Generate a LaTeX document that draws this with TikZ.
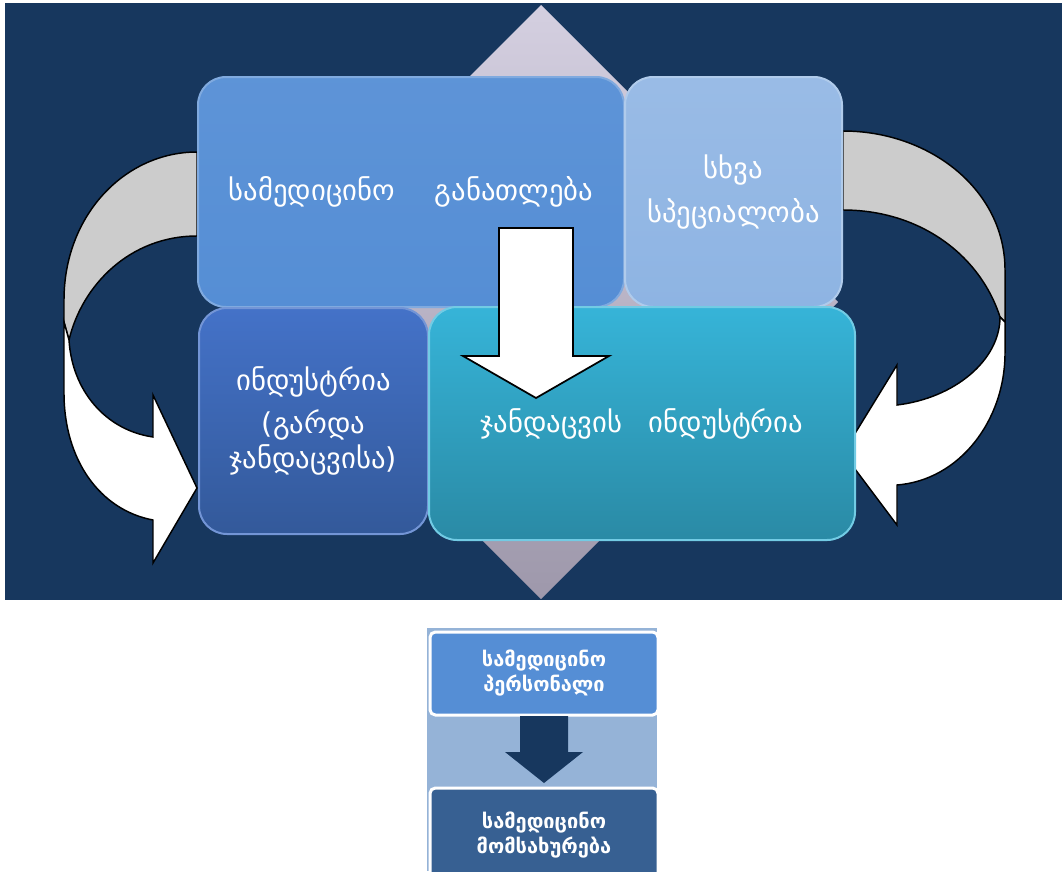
\documentclass[tikz,border=0pt]{standalone}
\usepackage{fontspec}
\setmainfont{DejaVu Sans}
\usetikzlibrary{positioning}
\definecolor{NavyBg}{HTML}{17375E}
\definecolor{DiamondTop}{HTML}{D4CFE0}
\definecolor{DiamondBottom}{HTML}{9E98AB}
\definecolor{PanelBlue}{HTML}{558ED5}
\definecolor{PanelPale}{HTML}{8EB4E3}
\definecolor{PanelRoyalTop}{HTML}{4472C8}
\definecolor{PanelRoyalBottom}{HTML}{33599A}
\definecolor{PanelTealTop}{HTML}{36B4D8}
\definecolor{PanelTealBottom}{HTML}{2A8AA5}
\definecolor{BackGray}{HTML}{CCCCCC}
\definecolor{StripBlue}{HTML}{95B3D7}
\definecolor{DeepBlue}{HTML}{376092}
\tikzset{
    % Big glossy panels
    panel/.style={
        rectangle,
        rounded corners=21pt,
        inner sep=0pt,
        align=center,
        text=white,
        line width=1.5pt,
        font=\fontsize{21.5}{26}\selectfont
    },
    panel blue/.style={
        panel,
        top color=PanelBlue!95!white,
        bottom color=PanelBlue,
        draw=PanelBlue!75!white
    },
    panel pale/.style={
        panel,
        top color=PanelPale!90!white,
        bottom color=PanelPale,
        draw=PanelPale!70!white
    },
    panel royal/.style={
        panel,
        top color=PanelRoyalTop,
        bottom color=PanelRoyalBottom,
        draw=PanelRoyalTop!75!white
    },
    panel teal/.style={
        panel,
        top color=PanelTealTop,
        bottom color=PanelTealBottom,
        draw=PanelTealTop!70!white
    },
    % Small boxes of the lower chain
    chain box/.style={
        rectangle,
        rounded corners=4pt,
        draw=white,
        line width=2.25pt,
        inner sep=0pt,
        minimum width=171pt,
        align=center,
        text=white,
        font=\fontsize{15}{18.75}\selectfont\bfseries
    },
    bend arrow/.style={
        draw=black,
        line width=1.1pt,
        line join=miter
    },
    block arrow/.style={
        draw=black,
        fill=white,
        line width=1.3pt,
        line join=miter
    }
}
\begin{document}
\begin{tikzpicture}[x=0.75pt, y=-0.75pt]
        \useasboundingbox (0,0) rectangle (1062,871);
        \clip (0,0) rectangle (1062,871);
        \fill[white] (0,0) rectangle (1062,871);

        % Dark backdrop and diamond
        \fill[NavyBg] (5,3) rectangle (1062,600);
        \shade[top color=DiamondTop, bottom color=DiamondBottom]
            (541,5) -- (838,302) -- (541,599) -- (244,302) -- cycle;

        % Curved arrow on the left
        \fill[BackGray, bend arrow] (197,152) .. controls (125,152) and (64,215) .. (64,300)
            -- (64,322) -- (69,340) .. controls (82,285) and (130,236) .. (197,236) -- cycle;
        \fill[white, bend arrow] (69,340) -- (64,322) -- (64,393)
            .. controls (64,460) and (100,510) .. (153,520)
            -- (153,563) -- (197,488) -- (153,395) -- (153,437)
            .. controls (105,430) and (72,390) .. (69,340) -- cycle;

        % Curved arrow on the right
        \fill[BackGray, bend arrow] (843,131) .. controls (930,131) and (1005,190) .. (1005,270)
            -- (1005,322) -- (1000,317) .. controls (980,255) and (920,210) .. (843,210) -- cycle;
        \fill[white, bend arrow] (1000,317) -- (1005,322) -- (1005,353)
            .. controls (1005,420) and (960,480) .. (897,485)
            -- (897,525) -- (843,453) -- (897,365) -- (897,405)
            .. controls (955,398) and (1000,360) .. (1000,317) -- cycle;

        % Panels
        \node[panel blue, minimum width=319.5pt, minimum height=172.5pt] (edu) at (411,192)
            {სამედიცინო\hspace{30pt}განათლება};
        \node[panel pale, minimum width=162.75pt, minimum height=172.5pt, right=-0.75pt of edu] (other)
            {სხვა\\[7pt]სპეციალობა};
        \node[panel royal, minimum width=171.75pt, minimum height=169.5pt] (industry) at (313.5,421)
            {ინდუსტრია\\[6pt](გარდა\\ჯანდაცვისა)};
        \node[panel teal, minimum width=319.5pt, minimum height=174.75pt] (health) at (642,423.5)
            {ჯანდაცვის\hspace{20pt}ინდუსტრია};

        % Straight arrow over the panels
        \draw[block arrow] (499,228) -- (573,228) -- (573,356) -- (609,356) -- (536,398)
            -- (463,356) -- (499,356) -- cycle;

        % Lower chain
        \fill[StripBlue] (427,628) rectangle (657,871);
        \node[chain box, fill=PanelBlue, minimum height=62.25pt] (staff) at (544,673.5)
            {სამედიცინო\\პერსონალი};
        \node[chain box, fill=DeepBlue, minimum height=71.25pt, below=52.5pt of staff] (service)
            {სამედიცინო\\მომსახურება};
        \fill[NavyBg] (520,716) -- (568,716) -- (568,752) -- (583,752) -- (544,783)
            -- (505,752) -- (520,752) -- cycle;
\end{tikzpicture}
\end{document}
